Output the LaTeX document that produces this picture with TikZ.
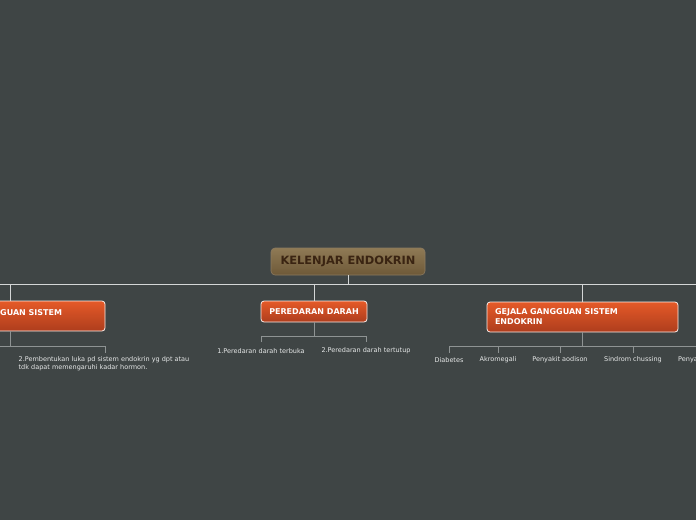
\documentclass[tikz,border=0pt]{standalone}
\usepackage{fontspec}
\setmainfont{DejaVu Sans}
\definecolor{bgc}{HTML}{3F4545}
\definecolor{rootTop}{HTML}{8F7A55}
\definecolor{rootBot}{HTML}{6E5938}
\definecolor{rootTxt}{HTML}{3A2412}
\definecolor{orTop}{HTML}{E55A28}
\definecolor{orBot}{HTML}{AE3D1D}
\definecolor{mainLine}{HTML}{D4D6D6}
\definecolor{subLine}{HTML}{8E9393}
\definecolor{leafTxt}{HTML}{E6E8E8}
\tikzset{
  rootbox/.style={draw=rootBot!80!white, line width=0.6pt, rounded corners=4pt,
    top color=rootTop, bottom color=rootBot, text=rootTxt,
    font=\fontsize{11.4}{13}\selectfont\bfseries, minimum width=154pt, minimum height=27pt, inner sep=0pt},
  mainbox/.style={draw=white!90!orTop, line width=0.8pt, rounded corners=3pt,
    top color=orTop, bottom color=orBot, text=white,
    font=\fontsize{8}{10}\selectfont\bfseries, inner sep=0pt},
  boxtext/.style={text=white, font=\fontsize{8}{10}\selectfont\bfseries, inner sep=0pt},
  leaf/.style={text=leafTxt, font=\fontsize{6.5}{8}\selectfont, inner sep=0pt},
  mline/.style={draw=mainLine, line width=1pt},
  sline/.style={draw=subLine, line width=1pt},
}
\begin{document}
\begin{tikzpicture}[x=1pt,y=-1pt]
\fill[bgc] (0,0) rectangle (696,520);
\useasboundingbox (0,0) rectangle (696,520);
\clip (0,0) rectangle (696,520);

% root
\node[rootbox] (root) at (348,261.5) {\raisebox{-0.8pt}{KELENJAR ENDOKRIN}};

% main boxes
\node[mainbox, minimum width=190pt, minimum height=30pt] (gangguan) at (10,316) {};
\node[boxtext, anchor=west] (gangguantxt) at (0,313) {GUAN SISTEM};
\node[mainbox, minimum width=106pt, minimum height=21pt] (peredaran) at (314,311.5) {\raisebox{-0.8pt}{PEREDARAN DARAH}};
\node[mainbox, minimum width=191pt, minimum height=30pt, text width=175pt, align=left] (gejala) at (582.5,317) {GEJALA GANGGUAN SISTEM\\ENDOKRIN};

% main connectors
\coordinate (hl) at (0,284);
\coordinate (hr) at (696,284);
\coordinate (rj) at (348,284);
\draw[mline] (root.south) -- (rj);
\draw[mline] (hl) -- (hr);
\draw[mline] (10,284) -- (gangguan.north);
\draw[mline] (314,284) -- (peredaran.north);
\draw[mline] (582.5,284) -- (gejala.north);

% leaves of left box
\node[leaf, anchor=north, align=left] (pembentukan) at (104,356.5) {2.Pembentukan luka pd sistem endokrin yg dpt atau\\tdk dapat memengaruhi kadar hormon.};
\coordinate (gl) at (0,346);
\draw[sline] (gangguan.south) -- (10,346);
\draw[sline] (gl) -- (105,346) -- (105,353);

% leaves of peredaran
\node[leaf] (terbuka) at (261,351) {1.Peredaran darah terbuka};
\node[leaf] (tertutup) at (366,351) {2.Peredaran darah tertutup};
\draw[sline] (peredaran.south) -- (314,336);
\draw[sline] (261,342) -- (261,336) -- (366,336) -- (366,342);

% leaves of gejala
\node[leaf] (diabetes) at (449,360) {Diabetes};
\node[leaf] (akromegali) at (498,360) {Akromegali};
\node[leaf] (addison) at (560,360) {Penyakit aodison};
\node[leaf] (cushing) at (633,360) {Sindrom chussing};
\node[leaf, anchor=west] (penya) at (678,360) {Penya};
\coordinate (gr) at (696,346);
\draw[sline] (gejala.south) -- (582.5,346);
\draw[sline] (449,353) -- (449,346) -- (gr);
\draw[sline] (498,346) -- (498,353);
\draw[sline] (560,346) -- (560,353);
\draw[sline] (633,346) -- (633,353);
\end{tikzpicture}
\end{document}
